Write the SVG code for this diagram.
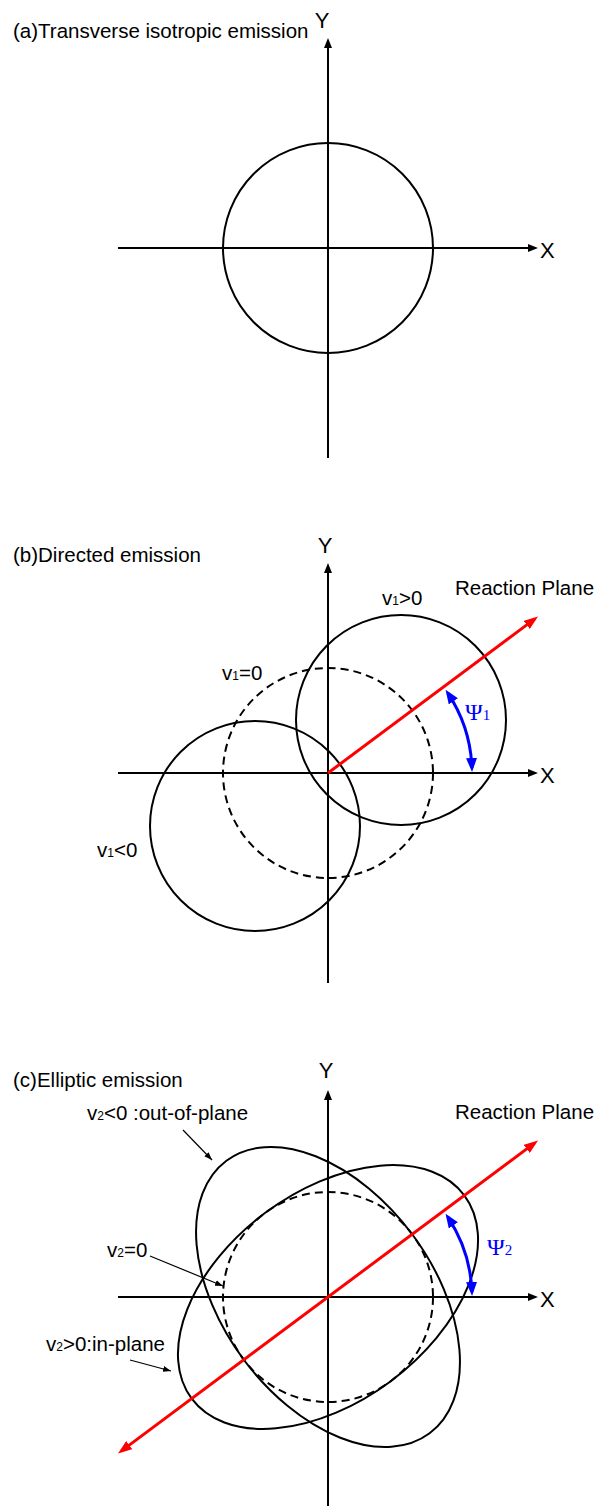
<svg xmlns="http://www.w3.org/2000/svg" width="600" height="1506" viewBox="0 0 600 1506">
<style>
.ax{stroke:#000;stroke-width:2;fill:none}
.curve{stroke:#000;stroke-width:2;fill:none}
.dash{stroke:#000;stroke-width:2;fill:none;stroke-dasharray:8 5}
.rp{stroke:#ff0000;stroke-width:3;fill:none}
.psi{stroke:#0000ff;stroke-width:3;fill:none}
.ptr{stroke:#000;stroke-width:1.2;fill:none}
.lbl{font-family:"Liberation Sans",Arial,sans-serif;font-size:20.5px;fill:#000}
.axl{font-family:"Liberation Sans",Arial,sans-serif;font-size:22px;fill:#000}
.greek{font-family:"Liberation Serif","Times New Roman",serif;font-size:24px;fill:#0000ff}
.gsub{font-size:15px}
.sub{font-size:12px}
</style>
<defs>
<marker id="ah" markerUnits="userSpaceOnUse" markerWidth="10" markerHeight="8" refX="7" refY="4" orient="auto"><path d="M0,0 L10,4 L0,8 z" fill="#000"/></marker>
<marker id="ahr" markerUnits="userSpaceOnUse" markerWidth="14" markerHeight="10" refX="10" refY="5" orient="auto-start-reverse"><path d="M0,0 L14,5 L0,10 z" fill="#ff0000"/></marker>
<marker id="ahb" markerUnits="userSpaceOnUse" markerWidth="14" markerHeight="11" refX="10" refY="5.5" orient="auto-start-reverse"><path d="M0,0 L14,5.5 L0,11 z" fill="#0000ff"/></marker>
<marker id="ahs" markerUnits="userSpaceOnUse" markerWidth="8" markerHeight="6" refX="8" refY="3" orient="auto"><path d="M0,0 L8,3 L0,6 z" fill="#000"/></marker>
</defs>

<!-- Panel (a) -->
<g id="panel-a">
  <text class="lbl" x="13" y="38">(a)Transverse isotropic emission</text>
  <g id="a-axes">
    <path class="ax" d="M118,248 H535" marker-end="url(#ah)"/>
    <path class="ax" d="M328,458 V41" marker-end="url(#ah)"/>
    <text class="axl" x="540" y="258">X</text>
    <text class="axl" x="322" y="28" text-anchor="middle">Y</text>
  </g>
  <g id="a-circle"><circle class="curve" cx="328" cy="248" r="105"/></g>
</g>

<!-- Panel (b) -->
<g id="panel-b">
  <text class="lbl" x="13" y="562">(b)Directed emission</text>
  <g id="b-axes">
    <path class="ax" d="M118,773 H535" marker-end="url(#ah)"/>
    <path class="ax" d="M328,983 V566" marker-end="url(#ah)"/>
    <text class="axl" x="540" y="783">X</text>
    <text class="axl" x="325" y="553" text-anchor="middle">Y</text>
  </g>
  <g id="b-v1zero">
    <circle class="dash" cx="328" cy="773" r="105"/>
    <text class="lbl" x="222" y="680">v<tspan class="sub">1</tspan>=0</text>
  </g>
  <g id="b-v1pos">
    <circle class="curve" cx="401" cy="720" r="105"/>
    <text class="lbl" x="382" y="605">v<tspan class="sub">1</tspan>&gt;0</text>
  </g>
  <g id="b-v1neg">
    <circle class="curve" cx="255" cy="826" r="105"/>
    <text class="lbl" x="97" y="857">v<tspan class="sub">1</tspan>&lt;0</text>
  </g>
  <g id="b-plane">
    <path class="rp" d="M328,773 L534.8,618.9" marker-end="url(#ahr)"/>
    <text class="lbl" x="455" y="595">Reaction Plane</text>
  </g>
  <g id="b-psi">
    <path class="psi" d="M471.91,767.97 A144,144 0 0 0 447.8,693.1" marker-start="url(#ahb)" marker-end="url(#ahb)"/>
    <text class="greek" x="465" y="720">Ψ<tspan class="gsub">1</tspan></text>
  </g>
</g>

<!-- Panel (c) -->
<g id="panel-c">
  <text class="lbl" x="13" y="1087">(c)Elliptic emission</text>
  <g id="c-axes">
    <path class="ax" d="M118,1297 H535" marker-end="url(#ah)"/>
    <path class="ax" d="M328,1507 V1093" marker-end="url(#ah)"/>
    <text class="axl" x="540" y="1307">X</text>
    <text class="axl" x="326" y="1078" text-anchor="middle">Y</text>
  </g>
  <g id="c-v2zero">
    <circle class="dash" cx="328" cy="1297" r="105"/>
    <text class="lbl" x="107" y="1257">v<tspan class="sub">2</tspan>=0</text>
  </g>
  <g id="c-outplane">
    <ellipse class="curve" cx="328" cy="1297" rx="105" ry="170" transform="rotate(-36.7 328 1297)"/>
    <text class="lbl" x="87" y="1120">v<tspan class="sub">2</tspan>&lt;0 :out-of-plane</text>
  </g>
  <g id="c-inplane">
    <ellipse class="curve" cx="328" cy="1297" rx="170" ry="105" transform="rotate(-36.7 328 1297)"/>
    <text class="lbl" x="165" y="1351" text-anchor="end">v<tspan class="sub">2</tspan>&gt;0:in-plane</text>
  </g>
  <g id="c-plane">
    <path class="rp" d="M121.2,1451.1 L534.8,1142.9" marker-start="url(#ahr)" marker-end="url(#ahr)"/>
    <text class="lbl" x="455" y="1119">Reaction Plane</text>
  </g>
  <g id="c-psi">
    <path class="psi" d="M471.91,1291.97 A144,144 0 0 0 447.8,1217.1" marker-start="url(#ahb)" marker-end="url(#ahb)"/>
    <text class="greek" x="487" y="1255">Ψ<tspan class="gsub">2</tspan></text>
  </g>
</g>

<!-- Connectors (label pointers) -->
<g id="connectors">
  <path class="ptr" d="M183,1130 L212,1160" marker-end="url(#ahs)"/>
  <path class="ptr" d="M150,1256 L223,1286" marker-end="url(#ahs)"/>
  <path class="ptr" d="M130,1360 L171,1371" marker-end="url(#ahs)"/>
</g>
</svg>
